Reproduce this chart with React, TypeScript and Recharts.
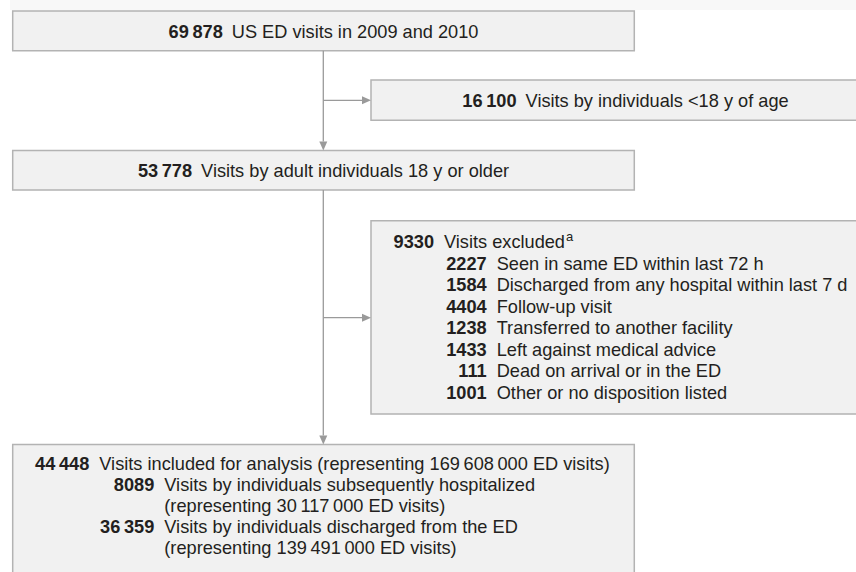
import { ComposedChart, XAxis, YAxis, ReferenceArea, ReferenceLine, Scatter } from 'recharts';

const WIDTH = 856;
const HEIGHT = 572;
const FONT = '"Liberation Sans", Arial, sans-serif';
const FONT_SIZE = 18.2;
const TEXT = '#231f20';
const BOX_FILL = '#f1f1f1';
const BOX_STROKE = '#b3b3b3';
const LINE = '#9a9a9a';

// flow counts and labels
const mainCounts = [69878, 53778, 44448];
const mainLabels = [
  'US ED visits in 2009 and 2010',
  'Visits by adult individuals 18 y or older',
  'Visits included for analysis (representing 169\u2009608\u2009000 ED visits)',
];
const minorCount = 16100;
const minorLabel = 'Visits by individuals <18 y of age';
const excludedTotal = 9330;
const excludedLabel = 'Visits excluded';
const exclusionCounts = [2227, 1584, 4404, 1238, 1433, 111, 1001];
const exclusionReasons = [
  'Seen in same ED within last 72 h',
  'Discharged from any hospital within last 7 d',
  'Follow-up visit',
  'Transferred to another facility',
  'Left against medical advice',
  'Dead on arrival or in the ED',
  'Other or no disposition listed',
];
const analysisCounts = [8089, 36359];
const analysisLines = [
  ['Visits by individuals subsequently hospitalized', '(representing 30\u2009117\u2009000 ED visits)'],
  ['Visits by individuals discharged from the ED', '(representing 139\u2009491\u2009000 ED visits)'],
];

// layout (in pixel units of the hidden axes)
const boxes = {
  top: { x1: 12.7, x2: 634.3, y1: 11, y2: 50.7 },
  minor: { x1: 371, x2: 880, y1: 80, y2: 120.3 },
  adult: { x1: 12.7, x2: 634.3, y1: 150.5, y2: 190 },
  excluded: { x1: 371, x2: 880, y1: 220.7, y2: 414 },
  included: { x1: 12.7, x2: 634.3, y1: 444.5, y2: 620 },
};
const trunkX = 323.3;
const arrowLen = 9;
const arrowTips = [
  { x: trunkX, y: 150.5, dir: 'down' },
  { x: 371, y: 100.3, dir: 'right' },
  { x: trunkX, y: 444.5, dir: 'down' },
  { x: 371, y: 317.7, dir: 'right' },
];

const fmt = (n: number) =>
  n >= 10000 ? n.toString().replace(/\B(?=(\d{3})+(?!\d))/g, '\u2009') : String(n);

const centered = (count: number, label: string) => (props: any) => {
  const vb = props.viewBox;
  return (
    <text
      x={vb.x + vb.width / 2}
      y={vb.y + 20 + 6.5}
      textAnchor="middle"
      fontFamily={FONT}
      fontSize={FONT_SIZE}
      fill={TEXT}
    >
      <tspan fontWeight="bold">{fmt(count)}</tspan>
      <tspan dx={9}>{label}</tspan>
    </text>
  );
};

const row = (key: string, numEnd: number, y: number, count: number | null, label: React.ReactNode) => (
  <g key={key}>
    {count !== null && (
      <text x={numEnd} y={y} textAnchor="end" fontFamily={FONT} fontSize={FONT_SIZE} fontWeight="bold" fill={TEXT}>
        {fmt(count)}
      </text>
    )}
    <text x={numEnd + 10} y={y} fontFamily={FONT} fontSize={FONT_SIZE} fill={TEXT}>
      {label}
    </text>
  </g>
);

const excludedContent = (props: any) => {
  const vb = props.viewBox;
  const base = vb.y + 21 + 6.5;
  const step = 21.5;
  return (
    <g>
      {row(
        'total',
        vb.x + 63,
        base,
        excludedTotal,
        <>
          {excludedLabel}
          <tspan fontSize={13} dx={1} dy={-7}>a</tspan>
        </>,
      )}
      {exclusionCounts.map((c, i) => row(`r${i}`, vb.x + 115.7, base + step * (i + 1), c, exclusionReasons[i]))}
    </g>
  );
};

const includedContent = (props: any) => {
  const vb = props.viewBox;
  const base = vb.y + 18.5 + 6.5;
  const step = 21;
  const items: React.ReactNode[] = [row('main', vb.x + 76.6, base, mainCounts[2], mainLabels[2])];
  let line = 1;
  analysisCounts.forEach((c, i) => {
    analysisLines[i].forEach((txt, j) => {
      items.push(row(`a${i}-${j}`, vb.x + 141.6, base + step * line, j === 0 ? c : null, txt));
      line += 1;
    });
  });
  return <g>{items}</g>;
};

const ArrowHead = (props: any) => {
  const { cx, cy, payload } = props;
  const h = 4;
  const pts =
    payload.dir === 'down'
      ? `${cx},${cy} ${cx - h},${cy - arrowLen} ${cx + h},${cy - arrowLen}`
      : `${cx},${cy} ${cx - arrowLen},${cy - h} ${cx - arrowLen},${cy + h}`;
  return <polygon points={pts} fill={LINE} />;
};

export default function App() {
  return (
    <div style={{ position: 'absolute', left: 0, top: 0, width: WIDTH, height: HEIGHT, background: '#fff' }}>
      <ComposedChart width={WIDTH} height={HEIGHT} margin={{ top: 0, right: 0, bottom: 0, left: 0 }}>
        <XAxis type="number" dataKey="x" domain={[0, WIDTH]} allowDataOverflow hide />
        <YAxis type="number" dataKey="y" domain={[0, HEIGHT]} reversed allowDataOverflow hide />

        {/* faint header band */}
        <ReferenceArea x1={10} x2={WIDTH} y1={0} y2={10} fill="#f8f8f8" fillOpacity={1} stroke="none" ifOverflow="hidden" />

        {/* connectors */}
        <ReferenceLine segment={[{ x: trunkX, y: boxes.top.y2 }, { x: trunkX, y: boxes.adult.y1 - arrowLen }]} stroke={LINE} strokeWidth={1.3} ifOverflow="hidden" />
        <ReferenceLine segment={[{ x: trunkX, y: 100.3 }, { x: boxes.minor.x1 - arrowLen, y: 100.3 }]} stroke={LINE} strokeWidth={1.3} ifOverflow="hidden" />
        <ReferenceLine segment={[{ x: trunkX, y: boxes.adult.y2 }, { x: trunkX, y: boxes.included.y1 - arrowLen }]} stroke={LINE} strokeWidth={1.3} ifOverflow="hidden" />
        <ReferenceLine segment={[{ x: trunkX, y: 317.7 }, { x: boxes.excluded.x1 - arrowLen, y: 317.7 }]} stroke={LINE} strokeWidth={1.3} ifOverflow="hidden" />

        {/* boxes */}
        <ReferenceArea {...boxes.top} fill={BOX_FILL} fillOpacity={1} stroke={BOX_STROKE} strokeWidth={1.5} ifOverflow="hidden" label={centered(mainCounts[0], mainLabels[0])} />
        <ReferenceArea {...boxes.minor} fill={BOX_FILL} fillOpacity={1} stroke={BOX_STROKE} strokeWidth={1.5} ifOverflow="hidden" label={centered(minorCount, minorLabel)} />
        <ReferenceArea {...boxes.adult} fill={BOX_FILL} fillOpacity={1} stroke={BOX_STROKE} strokeWidth={1.5} ifOverflow="hidden" label={centered(mainCounts[1], mainLabels[1])} />
        <ReferenceArea {...boxes.excluded} fill={BOX_FILL} fillOpacity={1} stroke={BOX_STROKE} strokeWidth={1.5} ifOverflow="hidden" label={excludedContent} />
        <ReferenceArea {...boxes.included} fill={BOX_FILL} fillOpacity={1} stroke={BOX_STROKE} strokeWidth={1.5} ifOverflow="hidden" label={includedContent} />

        <Scatter data={arrowTips} dataKey="y" shape={ArrowHead} isAnimationActive={false} />
      </ComposedChart>
    </div>
  );
}
